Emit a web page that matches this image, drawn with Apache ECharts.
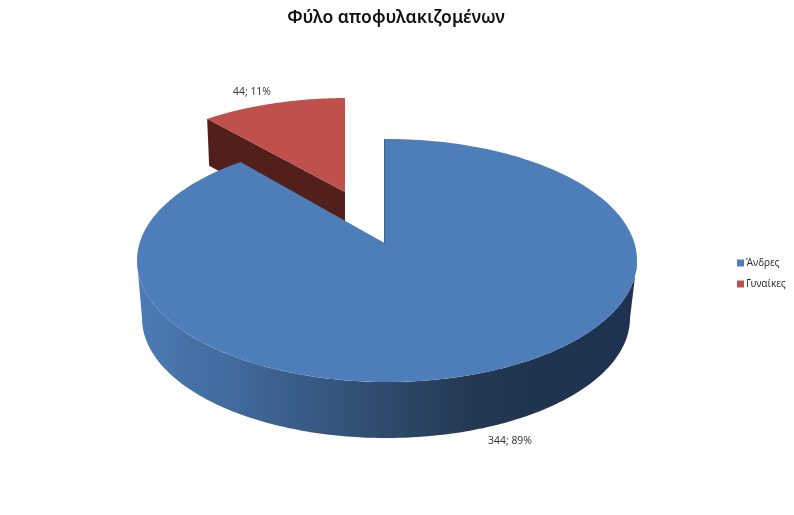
<!DOCTYPE html>
<html><head><meta charset="utf-8">
<style>html,body{margin:0;padding:0;background:#fff}#c{width:794px;height:515px}</style>
<script src="https://cdn.jsdelivr.net/npm/echarts@6/dist/echarts.min.js"></script>
</head><body><div id="c"></div>
<script>
const titleText = 'Φύλο αποφυλακιζομένων';
const categories = ['Άνδρες', 'Γυναίκες'];
const counts = [344, 44];

const total = counts.reduce((a, b) => a + b, 0);
const FONT = '"Noto Sans", sans-serif';
const colors = ['#4E7EBA', '#BF504C'];

// Pie geometry (layout constants, angles come from the data)
const geo = [
  { apex: [384.5, 243], top: { cx: 387, cy: 260.5, rx: 250, ry: 121.5 }, bottom: { cx: 386, cy: 318, rx: 244, ry: 120 }, depth: 56,
    label: [510, 441] },
  { apex: [345, 192], top: { cx: 347.8, cy: 208, rx: 240, ry: 110 }, depth: 47,
    label: [252, 92] }
];

function rim(apex, e, deg) {
  const th = deg * Math.PI / 180;
  const dx = Math.sin(th) * e.rx, dy = -Math.cos(th) * e.ry;
  const ax = (apex[0] - e.cx) / e.rx, ay = (apex[1] - e.cy) / e.ry;
  const bx = dx / e.rx, by = dy / e.ry;
  const A = bx * bx + by * by, B = 2 * (ax * bx + ay * by), C = ax * ax + ay * ay - 1;
  const s = (-B + Math.sqrt(B * B - 4 * A * C)) / (2 * A);
  return [apex[0] + dx * s, apex[1] + dy * s];
}
function paramOf(e, p) { return Math.atan2((p[1] - e.cy) / e.ry, (p[0] - e.cx) / e.rx); }
function arc(e, t0, t1, n) {
  const pts = [];
  for (let i = 0; i <= n; i++) {
    const t = t0 + (t1 - t0) * i / n;
    pts.push([e.cx + e.rx * Math.cos(t), e.cy + e.ry * Math.sin(t)]);
  }
  return pts;
}
function sweep(index) {
  let before = 0;
  for (let i = 0; i < index; i++) before += counts[i];
  return [before / total * 360, (before + counts[index]) / total * 360];
}
function wedge(g, index) {
  const [a0, a1] = sweep(index);
  const p0 = rim(g.apex, g.top, a0), p1 = rim(g.apex, g.top, a1);
  let t0 = paramOf(g.top, p0), t1 = paramOf(g.top, p1);
  while (t1 < t0) t1 += Math.PI * 2;
  return { p0, p1, pts: arc(g.top, t0, t1, 240) };
}
function labelOf(index, g) {
  return {
    type: 'text', z2: 10,
    style: { x: g.label[0], y: g.label[1], text: counts[index] + '; ' + Math.round(counts[index] / total * 100) + '%',
      font: '10.4px ' + FONT, fill: '#3a3a3a', align: 'center', verticalAlign: 'middle' }
  };
}
function renderMen(params, api) {
  const g = geo[0], w = wedge(g, 0);
  const topLow = arc(g.top, 0, Math.PI, 200);
  const botLow = arc(g.bottom, Math.PI, 0, 200);
  return { type: 'group', children: [
    { type: 'polygon', shape: { points: topLow.concat(botLow) },
      style: { fill: new echarts.graphic.LinearGradient(137, 0, 637, 0, [
        { offset: 0, color: '#4C7BB4' }, { offset: 0.2, color: '#41699C' }, { offset: 0.34, color: '#385B85' },
        { offset: 0.5, color: '#2E4A6C' }, { offset: 0.66, color: '#243A54' }, { offset: 0.8, color: '#1F344F' },
        { offset: 1, color: '#1E3350' }], true) } },
    { type: 'polygon', shape: { points: [g.apex].concat(w.pts) }, style: { fill: api.visual('color') } },
    { type: 'polyline', shape: { points: [w.p0, g.apex] }, style: { stroke: '#2c4a6e', lineWidth: 0.8, fill: 'none' } },
    labelOf(0, g)
  ] };
}
function renderWomen(params, api) {
  const g = geo[1], w = wedge(g, 1);
  const side = [w.p0, g.apex, [g.apex[0], g.apex[1] + g.depth], [w.p0[0] + 2, w.p0[1] + g.depth]];
  return { type: 'group', children: [
    { type: 'polygon', shape: { points: side }, style: { fill: '#521F1B' } },
    { type: 'polygon', shape: { points: [g.apex].concat(w.pts) }, style: { fill: api.visual('color') } },
    labelOf(1, g)
  ] };
}

const chart = echarts.init(document.getElementById('c'));
chart.setOption({
  animation: false,
  backgroundColor: '#fff',
  color: colors,
  title: { text: titleText, left: 391, top: 4, textAlign: 'center',
    textStyle: { fontFamily: FONT, fontSize: 17.5, fontWeight: 600, color: '#111' } },
  legend: { data: categories, orient: 'vertical', left: 732, top: 253, itemWidth: 7, itemHeight: 7, itemGap: 11,
    icon: 'rect', textStyle: { fontFamily: FONT, fontSize: 10, color: '#333', padding: [0, 0, 0, -3] } },
  series: [
    { type: 'custom', name: categories[0], coordinateSystem: 'none', z: 3, renderItem: renderMen, data: [counts[0]] },
    { type: 'custom', name: categories[1], coordinateSystem: 'none', z: 2, renderItem: renderWomen, data: [counts[1]] }
  ]
});
</script></body></html>
